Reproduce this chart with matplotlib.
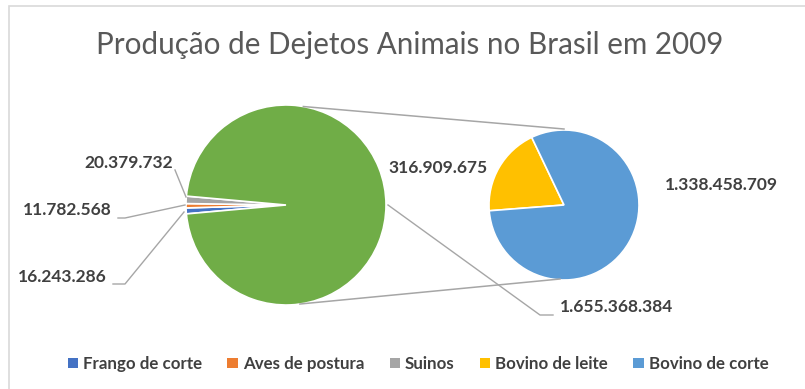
import matplotlib
matplotlib.use("Agg")
import matplotlib.pyplot as plt
from matplotlib.patches import Rectangle
import numpy as np

# ---- data ----
main_labels = ["Frango de corte", "Aves de postura", "Suinos"]
main_values = [16243286, 11782568, 20379732]
sec_labels = ["Bovino de leite", "Bovino de corte"]
sec_values = [316909675, 1338458709]
other_value = sum(sec_values)
title = "Produção de Dejetos Animais no Brasil em 2009"

main_colors = ["#4472C4", "#ED7D31", "#A5A5A5"]
other_color = "#70AD47"
sec_colors = ["#FFC000", "#5B9BD5"]

def fmt(v):
    return f"{v:,}".replace(",", ".")

W, H = 805, 389
def Y(y):
    return H - y

plt.rcParams['font.family'] = ['Lato', 'DejaVu Sans']
fig = plt.figure(figsize=(W / 100, H / 100), dpi=100)
ax = fig.add_axes([0, 0, 1, 1])

# frame
ax.add_patch(Rectangle((9, -10), W + 20, Y(6) + 10, fill=False, ec="#d9d9d9", lw=1.2))

total = sum(main_values) + other_value
small_angle = sum(main_values) / total * 360.0

c1, r1 = (286, Y(205)), 100
c2, r2 = (564, Y(205)), 75

wp = dict(edgecolor="white", linewidth=1.2)
w1, _ = ax.pie(main_values + [other_value], colors=main_colors + [other_color],
               startangle=180 + small_angle / 2, counterclock=False,
               center=c1, radius=r1, wedgeprops=wp, frame=True)
w2, _ = ax.pie(sec_values, colors=sec_colors, startangle=115.5,
               counterclock=True, center=c2, radius=r2, wedgeprops=wp, frame=True)
ax.set_xlim(0, W)
ax.set_ylim(0, H)
ax.set_aspect('equal')
ax.axis('off')

lc = "#a6a6a6"
# connector lines between pies
a_top, a_bot = np.deg2rad(80), np.deg2rad(-82)
ax.plot([c1[0] + r1 * np.cos(a_top), c2[0]], [c1[1] + r1 * np.sin(a_top), c2[1] + r2 + 1],
        color=lc, lw=1.1)
ax.plot([c1[0] + r1 * np.cos(a_bot), c2[0] - 4], [c1[1] + r1 * np.sin(a_bot), c2[1] - r2 + 1],
        color=lc, lw=1.1)

tc = "#404040"
lab_kw = dict(fontsize=12.5, fontweight='bold', color=tc, va='center')

# small slice labels with leader lines
ax.plot([175, 186], [Y(170), Y(197)], color=lc, lw=1)
ax.text(173, Y(163), fmt(main_values[2]), ha='right', **lab_kw)

ax.plot([118, 125, 185], [Y(218), Y(218), Y(205)], color=lc, lw=1)
ax.text(112, Y(210), fmt(main_values[1]), ha='right', **lab_kw)

ax.plot([113, 125, 184], [Y(284), Y(284), Y(212)], color=lc, lw=1)
ax.text(107, Y(277), fmt(main_values[0]), ha='right', **lab_kw)

# other label
ax.plot([388, 540, 553], [Y(205), Y(315), Y(315)], color=lc, lw=1)
ax.text(560, Y(307), fmt(other_value), ha='left', **lab_kw)

# secondary labels
ax.text(388, Y(168), fmt(sec_values[0]), ha='left', **lab_kw)
ax.text(665, Y(185), fmt(sec_values[1]), ha='left', **lab_kw)

ax.text(410, Y(45), title, ha='center', va='center', fontsize=21.3, color="#595959")

handles = list(w1[:3]) + list(w2)
labels = main_labels + sec_labels
leg = fig.legend(handles, labels, loc='center', bbox_to_anchor=(418 / W, 1 - 364 / H),
                 ncol=5, frameon=False, handlelength=0.6, handleheight=0.6,
                 handletextpad=0.3, columnspacing=1.5,
                 prop=dict(family='Lato', weight='bold', size=12.2))
for t in leg.get_texts():
    t.set_color(tc)
for h in leg.legend_handles:
    h.set_edgecolor('none')

fig.savefig("out.png", dpi=100)
